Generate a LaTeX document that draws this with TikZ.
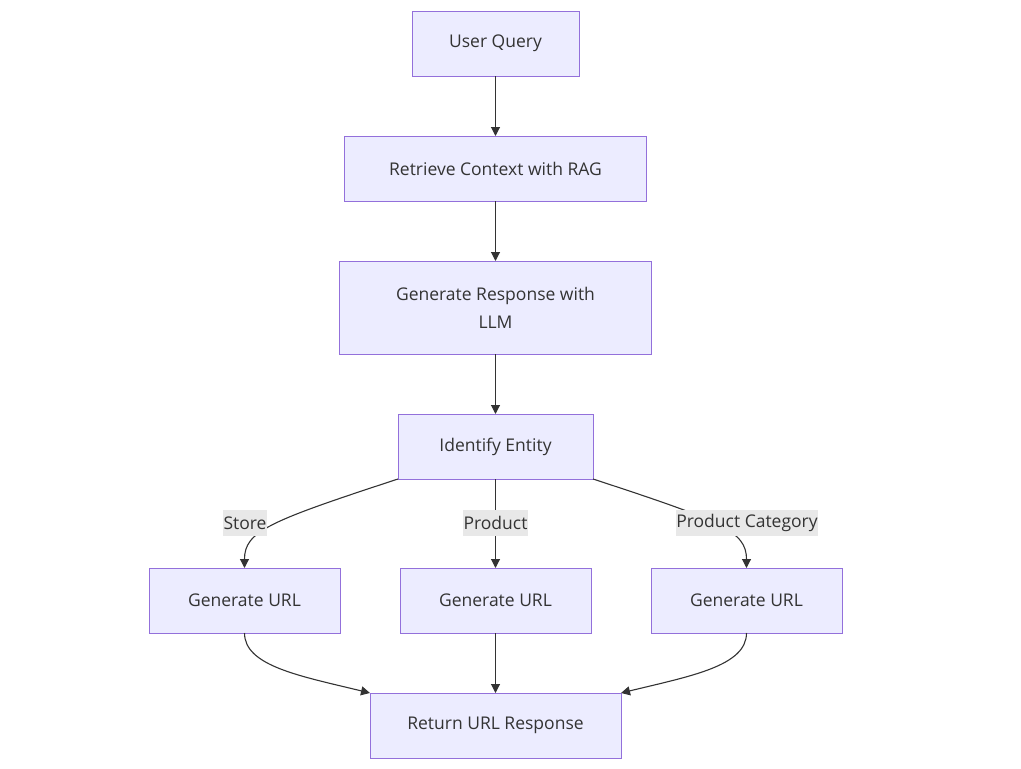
\documentclass[tikz,border=0pt]{standalone}
\usepackage{fontspec}
\setmainfont{Open Sans}
\usepackage{xcolor}
\usetikzlibrary{positioning, arrows.meta}

\definecolor{boxfill}{HTML}{ECECFF}
\definecolor{boxline}{HTML}{9370DB}
\definecolor{ink}{HTML}{333333}
\definecolor{lblfill}{HTML}{E8E8E8}

\tikzset{
  stepbox/.style={draw=boxline, fill=boxfill, line width=0.9pt, inner sep=0pt, outer sep=0pt,
    minimum height=65pt, text=ink, align=center, font=\fontsize{17.5}{28}\selectfont},
  edgelbl/.style={fill=lblfill, text=ink, inner sep=0.5pt, minimum height=26pt, font=\fontsize{17.5}{20}\selectfont}
}

\begin{document}
\begin{tikzpicture}[x=1pt,y=1pt,-{Triangle[length=9pt,width=9pt]},draw=ink,line width=1.1pt,node distance=60pt]
    \path[use as bounding box] (0,0) rectangle (1021,-769);

    \node[stepbox,minimum width=167pt] (query) at (495.5,-43.5) {User Query};
    \node[stepbox,minimum width=302pt] (rag) [below=of query] {Retrieve Context with RAG};
    \node[stepbox,minimum width=312pt,minimum height=93pt] (llm) [below=of rag] {Generate Response with\\LLM};
    \node[stepbox,minimum width=195pt] (entity) [below=of llm] {Identify Entity};
    \node[stepbox,minimum width=191pt] (urlB) [below=89pt of entity] {Generate URL};
    \node[stepbox,minimum width=191pt] (urlA) [left=of urlB] {Generate URL};
    \node[stepbox,minimum width=191pt] (urlC) [right=of urlB] {Generate URL};
    \node[stepbox,minimum width=251pt] (reply) [below=of urlB] {Return URL Response};

    \draw (query) -- (rag);
    \draw (rag) -- (llm);
    \draw (llm) -- (entity);
    \draw (entity.south west) .. controls +(-128,-42) and +(0,37) .. (urlA.north);
    \draw (entity) -- (urlB);
    \draw (entity.south east) .. controls +(128,-42) and +(0,37) .. (urlC.north);
    \draw (urlA.south) .. controls +(0,-33) and +(-70,17) .. (reply.north west);
    \draw (urlB) -- (reply);
    \draw (urlC.south) .. controls +(0,-33) and +(70,17) .. (reply.north east);

    % edge labels on top
    \node[edgelbl] (lblStore) at (245,-523) {Store};
    \node[edgelbl] (lblProduct) at (495.5,-523) {Product};
    \node[edgelbl] (lblCategory) at (747,-523) {Product Category};
\end{tikzpicture}
\end{document}
